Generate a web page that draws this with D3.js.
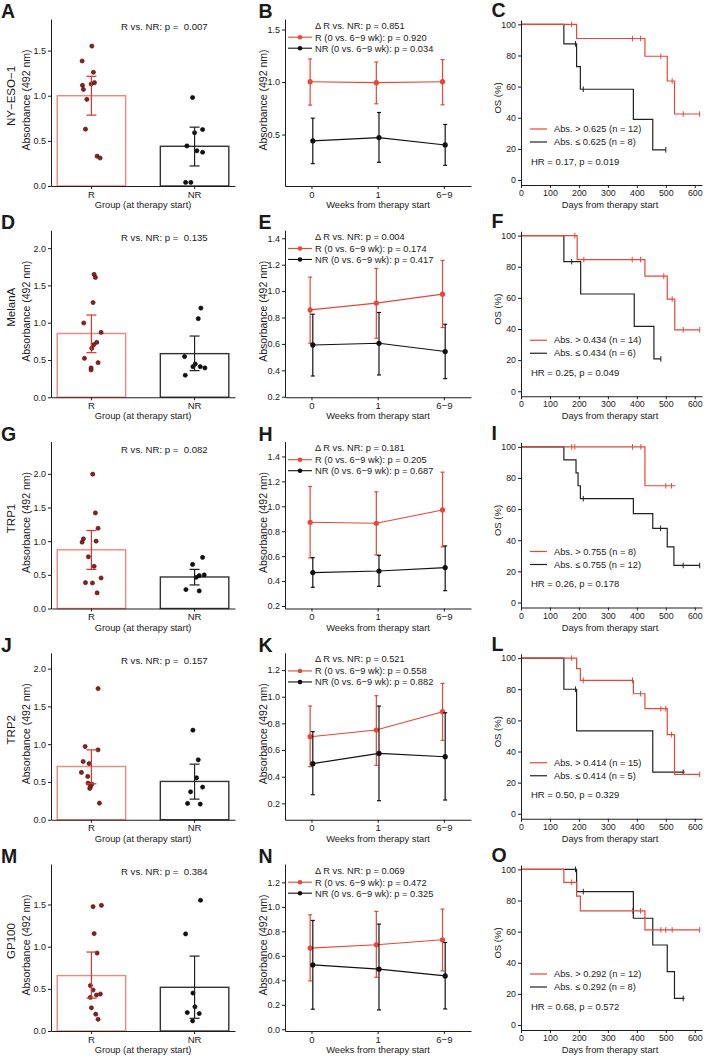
<!DOCTYPE html>
<html><head><meta charset="utf-8">
<script src="https://cdn.jsdelivr.net/npm/d3@7"></script>
<style>
body{margin:0;background:#fff;}
svg text{font-family:"Liberation Sans",Arial,Helvetica,sans-serif;fill:#1a1a1a;}
</style></head><body>
<svg id="c" width="707" height="1060"></svg>
<script>
// ---------------- DATA ----------------
const antigens = ["NY\u2212ESO\u22121","MelanA","TRP1","TRP2","GP100"];
const panelLetters = [["A","B","C"],["D","E","F"],["G","H","I"],["J","K","L"],["M","N","O"]];
const groups = ["R","NR"];
const weeks = ["0","1","6\u22129"];

// Bar panels (A, D, G, J, M)
const barMeans   = [[1.0,0.44],[0.855,0.585],[0.872,0.468],[0.705,0.507],[0.657,0.518]];
const barErrLow  = [[0.785,0.222],[0.598,0.357],[0.581,0.35],[0.476,0.273],[0.39,0.151]];
const barErrHigh = [[1.215,0.652],[1.103,0.821],[1.158,0.581],[0.925,0.736],[0.936,0.888]];
const barP = ["0.007","0.135","0.082","0.157","0.384"];
const barYMax = [1.85,2.24,2.48,2.21,1.98];
const barTicks = [0,0.5,1.0,1.5,2.0];

const pointsR = [
  [1.55,1.385,1.26,1.115,1.07,1.13,1.145,0.96,0.63,0.33,0.31],
  [1.647,1.607,1.27,0.996,0.87,0.737,0.705,0.656,0.522,0.464,0.393,0.366],
  [1.995,1.419,1.192,1.034,0.985,1.0,0.768,0.626,0.384,0.379,0.453,0.232],
  [1.736,0.969,0.925,0.771,0.744,0.626,0.573,0.485,0.471,0.436,0.414,0.22],
  [1.474,1.49,1.155,0.924,0.538,0.486,0.426,0.438,0.398,0.275,0.199,0.139]
];
const jitterR = [
  [0.006,-0.136,0.029,-0.131,-0.117,-0.004,0.044,-0.067,-0.087,0.083,0.127],
  [0.039,0.058,0.024,-0.112,0.141,0.078,0.034,0.005,-0.102,0.097,-0.005,-0.005],
  [0.019,0.058,0.097,-0.117,-0.136,0.068,-0.044,0.039,-0.087,0.015,0.141,0.083],
  [0.097,-0.092,0.097,-0.121,-0.034,-0.146,-0.054,-0.049,0.005,-0.015,-0.024,0.117],
  [0.024,0.146,0.039,0.083,-0.015,0.024,0.073,0.131,-0.015,0.0,0.063,0.097]
];
const pointsNR = [
  [0.98,0.626,0.59,0.444,0.39,0.374,0.04,0.04],
  [1.196,1.054,0.545,0.446,0.41,0.41,0.393,0.295],
  [0.759,0.655,0.498,0.488,0.463,0.281,0.261],
  [1.185,0.793,0.555,0.432,0.37,0.216,0.207],
  [1.55,1.151,0.45,0.287,0.219,0.207,0.12]
];
const jitterNR = [
  [-0.029,0.117,0.0,-0.112,0.034,0.117,-0.131,-0.054],
  [0.092,0.054,-0.146,0.01,-0.024,0.083,0.151,-0.136],
  [0.117,-0.029,0.141,0.068,0.024,-0.126,0.068],
  [-0.024,0.054,0.029,0.117,-0.058,-0.102,0.083],
  [0.087,-0.131,-0.024,0.005,-0.107,0.068,-0.029]
];

// Line panels (B, E, H, K, N)
const lineRMean = [[1.003,0.994,1.003],[0.858,0.909,0.977],[0.872,0.864,0.971],[0.70,0.75,0.888],[0.663,0.69,0.731]];
const lineRLow  = [[0.78,0.793,0.783],[0.605,0.643,0.724],[0.586,0.61,0.674],[0.475,0.485,0.673],[0.395,0.425,0.477]];
const lineRHigh = [[1.22,1.19,1.213],[1.106,1.172,1.233],[1.159,1.116,1.274],[0.93,1.008,1.1],[0.935,0.963,0.982]];
const lineNRMean = [[0.44,0.471,0.401],[0.592,0.605,0.542],[0.468,0.481,0.508],[0.498,0.575,0.55],[0.526,0.491,0.436]];
const lineNRLow  = [[0.223,0.236,0.207],[0.357,0.365,0.337],[0.35,0.358,0.323],[0.265,0.22,0.225],[0.164,0.158,0.166]];
const lineNRHigh = [[0.656,0.71,0.596],[0.825,0.838,0.749],[0.588,0.607,0.682],[0.738,0.93,0.88],[0.889,0.859,0.709]];
const lineYDomain = [[0.01,1.60],[0.196,1.461],[0.18,1.52],[0.077,1.33],[-0.014,1.35]];
const lineTicks = [[0.5,1.0,1.5],[0.2,0.4,0.6,0.8,1.0,1.2,1.4],[0.2,0.4,0.6,0.8,1.0,1.2,1.4],[0.2,0.4,0.6,0.8,1.0,1.2],[0.0,0.2,0.4,0.6,0.8,1.0,1.2]];
const deltaP = ["0.851","0.004","0.181","0.521","0.069"];
const rP = ["0.920","0.174","0.205","0.558","0.472"];
const nrP = ["0.034","0.417","0.687","0.882","0.325"];

// KM panels (C, F, I, L, O): steps = [day, survival%]
const thresholds = ["0.625","0.434","0.755","0.414","0.292"];
const nHigh = [12,14,8,15,12];
const nLow = [8,6,12,5,8];
const hrVal = ["0.17","0.25","0.26","0.50","0.68"];
const hrP = ["0.019","0.049","0.178","0.329","0.572"];
const kmHighSteps = [
  [[192,90.9],[428,79.5],[505,63.6],[530,42.4]],
  [[194,84.6],[428,74.0],[505,59.2],[531,39.5]],
  [[428,75.0]],
  [[192,93.3],[205,85.7],[388,77.1],[428,67.5],[505,50.9],[530,25.3]],
  [[148,91.7],[192,82.8],[205,73.3],[428,61.1]]
];
const kmHighCensor = [
  [175,385,413,483,522,560,617],
  [186,217,384,413,493,522,560,617],
  [175,186,385,414,500,520],
  [175,215,385,413,483,500,520,617],
  [175,385,413,483,500,522,617]
];
const kmHighEnd = [617,617,533,617,617];
const kmLowSteps = [
  [[148,87.5],[192,72.9],[205,58.3],[388,38.9],[455,19.4]],
  [[148,83.3],[206,62.5],[391,41.7],[459,20.8]],
  [[148,91.7],[190,83.3],[197,75.0],[205,66.7],[388,57.1],[455,47.6],[505,35.7],[528,23.8]],
  [[148,80.0],[192,53.3],[455,26.7]],
  [[192,85.7],[388,68.6],[455,51.4],[505,34.3],[530,17.1]]
];
const kmLowCensor = [
  [188,215,500],
  [175,483],
  [215,482,560,617],
  [188,560],
  [188,215,560]
];
const kmLowEnd = [500,483,617,565,565];
const kmXTicks = [0,100,200,300,400,500,600];
const kmYTicks = [0,20,40,60,80,100];

// ---------------- DRAWING ----------------
const RED = "#e5473a", RED_LIGHT = "#f2877e", DARK = "#1e1e1e";
const ROW = 211.25;
const svg = d3.select("#c");

function styleAxis(g, fs){
  g.select(".domain").attr("stroke", DARK).attr("stroke-width", 1);
  g.selectAll(".tick line").attr("stroke", DARK).attr("stroke-width", 1);
  g.selectAll(".tick text").style("font-size", fs + "px");
}
function vtext(g, x, y, txt, fs){
  g.append("text").attr("transform", `translate(${x},${y}) rotate(-90)`)
    .attr("text-anchor", "middle").style("font-size", fs + "px").text(txt);
}
function htext(g, x, y, txt, fs, anchor){
  return g.append("text").attr("x", x).attr("y", y).attr("text-anchor", anchor || "start")
    .style("font-size", fs + "px").text(txt);
}

d3.range(5).forEach(r => {
  const root = svg.append("g").attr("transform", `translate(0,${r * ROW})`);

  // panel letters
  [[1,0,18],[258.5,1,18],[491.5,2,17]].forEach(([x,c,yy]) => {
    root.append("text").attr("x", x).attr("y", yy).attr("font-weight", "bold")
      .style("font-size", "19.5px").text(panelLetters[r][c]);
  });
  vtext(root, 15, 96, antigens[r], 11.5);

  // ---------- bar panel ----------
  const gb = root.append("g");
  const xb = d3.scaleBand().domain(groups).range([51, 235]).paddingInner(0.336).paddingOuter(0.06);
  const yb = d3.scaleLinear().domain([0, barYMax[r]]).range([186, 19]);
  const bw = xb.bandwidth();
  const jx = d3.scaleLinear().domain([-0.5, 0.5]).range([-bw / 2, bw / 2]);

  gb.selectAll("rect.bar").data(groups).join("rect")
    .attr("x", d => xb(d)).attr("width", bw)
    .attr("y", (d, i) => yb(barMeans[r][i]))
    .attr("height", (d, i) => yb(0) - yb(barMeans[r][i]))
    .attr("fill", "none").attr("stroke", (d, i) => i ? "#333" : RED_LIGHT).attr("stroke-width", 1.4);

  const ptsR = pointsR[r].map((v, i) => ({g: "R", v, j: jitterR[r][i]}));
  const ptsNR = pointsNR[r].map((v, i) => ({g: "NR", v, j: jitterNR[r][i]}));
  gb.selectAll("circle.pt").data(ptsR.concat(ptsNR)).join("circle")
    .attr("cx", d => xb(d.g) + bw / 2 + jx(d.j)).attr("cy", d => yb(d.v)).attr("r", 2.1)
    .attr("fill", d => d.g === "R" ? "#8c2020" : "#111")
    .attr("stroke", d => d.g === "R" ? "#4d0d0d" : "#000").attr("stroke-width", 0.6);

  groups.forEach((gname, i) => {
    const cx = xb(gname) + bw / 2, col = i ? DARK : "#d9362a";
    const lo = yb(barErrLow[r][i]), hi = yb(barErrHigh[r][i]);
    gb.append("line").attr("x1", cx).attr("x2", cx).attr("y1", lo).attr("y2", hi).attr("stroke", col).attr("stroke-width", 1.2);
    [lo, hi].forEach(yy => gb.append("line").attr("x1", cx - 5).attr("x2", cx + 5).attr("y1", yy).attr("y2", yy).attr("stroke", col).attr("stroke-width", 1.2));
  });

  const yAxB = gb.append("g").attr("transform", "translate(51,0)")
    .call(d3.axisLeft(yb).tickValues(barTicks.filter(t => t <= barYMax[r])).tickFormat(d3.format(".1f")).tickSize(3).tickSizeOuter(0).tickPadding(2));
  styleAxis(yAxB, 9);
  const xAxB = gb.append("g").attr("transform", "translate(0,186)")
    .call(d3.axisBottom(xb).tickSize(3).tickSizeOuter(0).tickPadding(2));
  styleAxis(xAxB, 9.5);
  vtext(gb, 30, 100, "Absorbance (492 nm)", 10.5);
  htext(gb, 143, 208, "Group (at therapy start)", 9.3, "middle");
  htext(gb, 121, 30, "R vs. NR: p =\u00a0 " + barP[r], 9.6);

  // ---------- line panel ----------
  const gl = root.append("g");
  const xl = d3.scaleLinear().domain([-0.4, 2.41]).range([285, 471]);
  const yl = d3.scaleLinear().domain(lineYDomain[r]).range([186, 19]);
  const series = [
    {mean: lineRMean[r], lo: lineRLow[r], hi: lineRHigh[r], col: RED, dodge: -0.02},
    {mean: lineNRMean[r], lo: lineNRLow[r], hi: lineNRHigh[r], col: "#111", dodge: 0.02}
  ];
  series.forEach(s => {
    const pts = s.mean.map((m, i) => ({x: xl(i + s.dodge), m, lo: s.lo[i], hi: s.hi[i]}));
    pts.forEach(p => {
      gl.append("line").attr("x1", p.x).attr("x2", p.x).attr("y1", yl(p.lo)).attr("y2", yl(p.hi)).attr("stroke", s.col).attr("stroke-width", 1.2);
      [p.lo, p.hi].forEach(v => gl.append("line").attr("x1", p.x - 2).attr("x2", p.x + 2).attr("y1", yl(v)).attr("y2", yl(v)).attr("stroke", s.col).attr("stroke-width", 1.2));
    });
    gl.append("path").datum(pts).attr("d", d3.line().x(p => p.x).y(p => yl(p.m)))
      .attr("fill", "none").attr("stroke", s.col).attr("stroke-width", 1.1);
    gl.selectAll(null).data(pts).join("circle").attr("cx", p => p.x).attr("cy", p => yl(p.m)).attr("r", 2.6).attr("fill", s.col);
  });
  const yAxL = gl.append("g").attr("transform", "translate(285,0)")
    .call(d3.axisLeft(yl).tickValues(lineTicks[r]).tickFormat(d3.format(".1f")).tickSize(3).tickSizeOuter(0).tickPadding(2));
  styleAxis(yAxL, 9);
  const xAxL = gl.append("g").attr("transform", "translate(0,186)")
    .call(d3.axisBottom(xl).tickValues([0, 1, 2]).tickFormat(i => weeks[i]).tickSize(3).tickSizeOuter(0).tickPadding(2));
  styleAxis(xAxL, 9.5);
  vtext(gl, 266.5, 100, "Absorbance (492 nm)", 10.5);
  htext(gl, 378, 208, "Weeks from therapy start", 9.3, "middle");
  // legend
  htext(gl, 315, 28.5, "\u0394 R vs. NR: p = " + deltaP[r], 9.3);
  [[RED, "R (0 vs. 6\u22129 wk): p = " + rP[r], 40.5], ["#111", "NR (0 vs. 6\u22129 wk): p = " + nrP[r], 51.5]].forEach(([col, txt, yy]) => {
    gl.append("line").attr("x1", 288).attr("x2", 312).attr("y1", yy - 3.3).attr("y2", yy - 3.3).attr("stroke", col).attr("stroke-width", 1.1);
    gl.append("circle").attr("cx", 300).attr("cy", yy - 3.3).attr("r", 2.3).attr("fill", col);
    htext(gl, 315, yy, txt, 9.3);
  });

  // ---------- KM panel ----------
  const gk = root.append("g");
  const xk = d3.scaleLinear().domain([0, 625]).range([521, 702]);
  const yk = d3.scaleLinear().domain([-3.2, 102.8]).range([185, 20]);
  const kmLine = d3.line().x(d => xk(d[0])).y(d => yk(d[1])).curve(d3.curveStepAfter);
  const curves = [
    {steps: kmLowSteps[r], cens: kmLowCensor[r], end: kmLowEnd[r], col: "#222"},
    {steps: kmHighSteps[r], cens: kmHighCensor[r], end: kmHighEnd[r], col: RED}
  ];
  curves.forEach(c => {
    const last = c.steps[c.steps.length - 1][1];
    const pts = [[0, 100]].concat(c.steps, [[c.end, last]]);
    gk.append("path").attr("d", kmLine(pts)).attr("fill", "none").attr("stroke", c.col).attr("stroke-width", 1.2);
    const survAt = t => { let s = 100; c.steps.forEach(st => { if (st[0] <= t) s = st[1]; }); return s; };
    c.cens.forEach(t => {
      const cx = xk(t), cy = yk(survAt(t));
      gk.append("line").attr("x1", cx).attr("x2", cx).attr("y1", cy - 2.8).attr("y2", cy + 2.8).attr("stroke", c.col).attr("stroke-width", 1);
    });
  });
  const yAxK = gk.append("g").attr("transform", "translate(521,0)")
    .call(d3.axisLeft(yk).tickValues(kmYTicks).tickSize(3).tickSizeOuter(0).tickPadding(2));
  styleAxis(yAxK, 8.8);
  const xAxK = gk.append("g").attr("transform", "translate(0,185)")
    .call(d3.axisBottom(xk).tickValues(kmXTicks).tickSize(3).tickSizeOuter(0).tickPadding(2));
  styleAxis(xAxK, 8.8);
  vtext(gk, 501, 98, "OS (%)", 9.5);
  htext(gk, 610, 208, "Days from therapy start", 9.3, "middle");
  [[RED, "Abs. > " + thresholds[r] + " (n = " + nHigh[r] + ")", 129], ["#222", "Abs. \u2264 " + thresholds[r] + " (n = " + nLow[r] + ")", 142]].forEach(([col, txt, yy]) => {
    gk.append("line").attr("x1", 530).attr("x2", 547).attr("y1", yy).attr("y2", yy).attr("stroke", col).attr("stroke-width", 1.2);
    htext(gk, 554, yy + 3.2, txt, 9.3);
  });
  htext(gk, 531, 164.5, "HR = " + hrVal[r] + ", p = " + hrP[r], 9.5);
});
</script>
</body></html>
